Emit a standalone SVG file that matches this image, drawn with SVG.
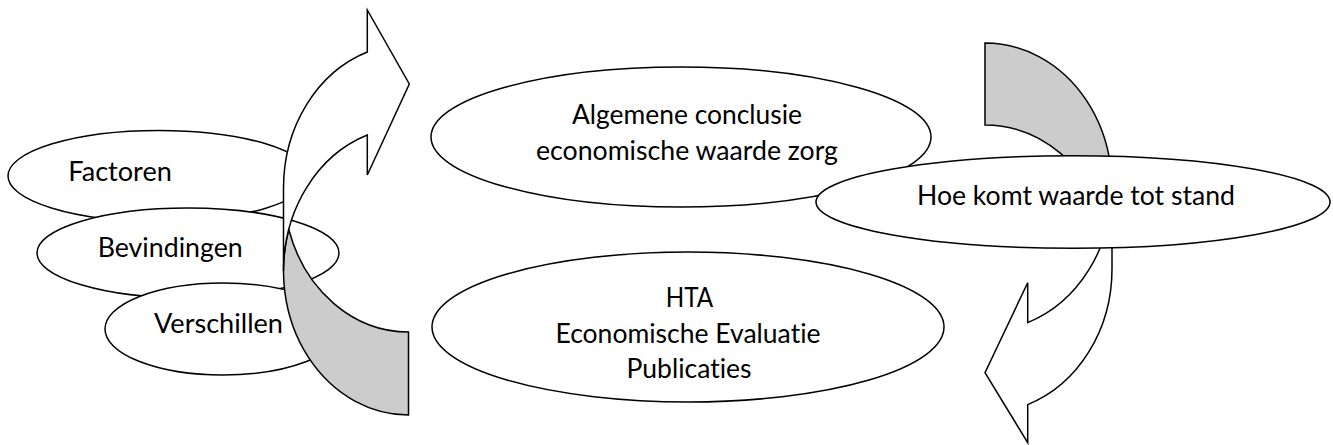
<svg xmlns="http://www.w3.org/2000/svg" width="1333" height="445" viewBox="0 0 1333 445">
<style>
.node{fill:#ffffff;stroke:#000000;stroke-width:1.5}
.front{fill:#ffffff;stroke:#000000;stroke-width:1.5;stroke-linejoin:miter}
.back{fill:#cccccc;stroke:#000000;stroke-width:1.5}
.lbl{font-family:Lato,"Liberation Sans",sans-serif;font-size:26px;fill:#000000;font-variant-ligatures:none;font-feature-settings:"liga" 0,"clig" 0}
.mid{text-anchor:middle}
</style>
<rect width="1333" height="445" fill="#ffffff"/>
<g id="factoren">
<ellipse class="node" cx="159" cy="176" rx="151" ry="45.5"/>
<text class="lbl" x="68.3" y="180.7" textLength="103.5" lengthAdjust="spacingAndGlyphs">Factoren</text>
</g>
<g id="bevindingen">
<ellipse class="node" cx="188" cy="253" rx="151" ry="45"/>
<text class="lbl" x="97.7" y="257.3" textLength="145" lengthAdjust="spacingAndGlyphs">Bevindingen</text>
</g>
<g id="verschillen">
<ellipse class="node" cx="223" cy="329" rx="118" ry="46"/>
<text class="lbl" x="154" y="332.7" textLength="129" lengthAdjust="spacingAndGlyphs">Verschillen</text>
</g>
<g id="connectors">
<g id="arrow-left">
<path class="back" d="M408.5,332 A125,144 0 0 1 288.8,229.5 A125,144 0 0 0 408.5,415 Z"/>
<path class="front" d="M367.3,52.05 A125,144 0 0 0 283.5,188 L283.5,271 A125,144 0 0 1 367.3,135.05 L367.3,175 L409.3,84 L367.3,10 Z"/>
</g>
<g id="arrow-right">
<path class="back" d="M985,43 A127,144 0 0 1 1106.7,228 A127,144 0 0 0 985,125 Z"/>
<path class="front" d="M1112,187 A127,144 0 0 1 1027.7,322.6 L1027.7,282.7 L985,372.7 L1027.7,442.7 L1027.7,404.6 A127,144 0 0 0 1112,269 Z"/>
</g>
</g>
<g id="algemene">
<ellipse class="node" cx="681" cy="137" rx="250" ry="70"/>
<text class="lbl mid" x="687" y="124" textLength="230" lengthAdjust="spacingAndGlyphs">Algemene conclusie</text>
<text class="lbl mid" x="687" y="159.5" textLength="302" lengthAdjust="spacingAndGlyphs">economische waarde zorg</text>
</g>
<g id="hta">
<ellipse class="node" cx="688" cy="327" rx="256" ry="75"/>
<text class="lbl mid" x="689.5" y="307.3" textLength="47.5" lengthAdjust="spacingAndGlyphs">HTA</text>
<text class="lbl mid" x="688" y="342.7" textLength="265" lengthAdjust="spacingAndGlyphs">Economische Evaluatie</text>
<text class="lbl mid" x="689" y="378.3" textLength="125" lengthAdjust="spacingAndGlyphs">Publicaties</text>
</g>
<g id="hoe">
<ellipse class="node" cx="1073" cy="202" rx="257" ry="46.3"/>
<text class="lbl mid" x="1076" y="205" textLength="318" lengthAdjust="spacingAndGlyphs">Hoe komt waarde tot stand</text>
</g>
</svg>
